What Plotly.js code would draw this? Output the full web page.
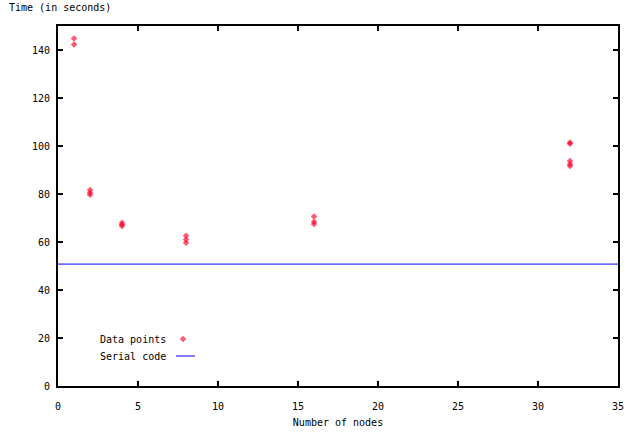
<!DOCTYPE html>
<html>
<head>
<meta charset="utf-8">
<script src="https://cdn.plot.ly/plotly-3.0.1.min.js"></script>
<style>html,body{margin:0;padding:0;background:#fff;}#chart{width:634px;height:447px;}</style>
</head>
<body>
<div id="chart"></div>
<script>
// Data
const nodes = [1, 1, 2, 2, 2, 4, 4, 4, 8, 8, 8, 16, 16, 16, 32, 32, 32, 32, 32];
const times = [144.8, 142.3, 81.7, 80.5, 79.7, 68, 67.3, 66.7, 62.6, 61, 59.7, 70.6, 68.4, 67.5, 101.5, 100.9, 93.8, 92.5, 91.7];
const serialTime = 50.8;
const xRange = [0, 35];
const yRange = [0, 150];
const xTicks = [0, 5, 10, 15, 20, 25, 30, 35];
const yTicks = [0, 20, 40, 60, 80, 100, 120, 140];
const labels = {data: "Data points", serial: "Serial code", x: "Number of nodes", y: "Time (in seconds)"};

const font = {family: "DejaVu Sans Mono", size: 10, color: "#000"};
const markerStyle = {symbol: "diamond", size: 5, color: "rgba(255,0,40,0.65)", line: {width: 0}};

const traces = [
  {x: nodes, y: times, type: "scatter", mode: "markers", marker: markerStyle, showlegend: false, hoverinfo: "skip"},
  {x: xRange, y: [serialTime, serialTime], type: "scatter", mode: "lines", line: {color: "#0000ff", width: 1}, showlegend: false, hoverinfo: "skip"},
  // legend samples on a pixel-like overlay axis
  {x: [125], y: [47], xaxis: "x2", yaxis: "y2", type: "scatter", mode: "markers", marker: markerStyle, showlegend: false, hoverinfo: "skip"},
  {x: [118, 137], y: [30, 30], xaxis: "x2", yaxis: "y2", type: "scatter", mode: "lines", line: {color: "#0000ff", width: 1}, showlegend: false, hoverinfo: "skip"}
];

const axisCommon = {showgrid: false, zeroline: false, showline: true, linecolor: "#000", linewidth: 2, mirror: "ticks",
  ticks: "inside", ticklen: 5, tickwidth: 1.5, tickcolor: "#000", tickfont: font};

const layout = {
  width: 634, height: 447,
  margin: {l: 58, r: 16, t: 26, b: 61},
  paper_bgcolor: "#fff", plot_bgcolor: "#fff",
  font: font,
  showlegend: false,
  xaxis: Object.assign({}, axisCommon, {range: xRange, tickvals: xTicks, ticktext: xTicks.map(String),
    ticklabelstandoff: 10, title: {text: labels.x, font: font, standoff: 8}}),
  yaxis: Object.assign({}, axisCommon, {range: yRange, tickvals: yTicks, ticktext: yTicks.map(String), ticklabelstandoff: 4}),
  xaxis2: {overlaying: "x", range: [0, 560], visible: false, fixedrange: true},
  yaxis2: {overlaying: "y", range: [0, 360], visible: false, fixedrange: true},
  annotations: [
    {text: labels.y, xref: "paper", yref: "paper", x: -51/560, y: 1 + 18/360, xanchor: "left", yanchor: "middle", showarrow: false, font: font},
    {text: labels.data, xref: "x2", yref: "y2", x: 110, y: 47, xanchor: "right", yanchor: "middle", showarrow: false, font: font},
    {text: labels.serial, xref: "x2", yref: "y2", x: 110, y: 30, xanchor: "right", yanchor: "middle", showarrow: false, font: font}
  ]
};

Plotly.newPlot("chart", traces, layout, {staticPlot: true, displayModeBar: false});
</script>
</body>
</html>
